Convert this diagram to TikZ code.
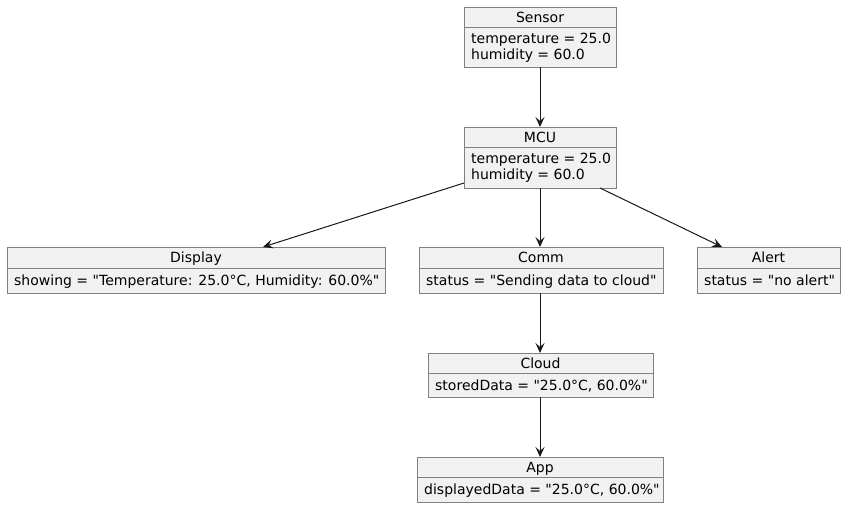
\documentclass[tikz,border=0pt]{standalone}
\usepackage{fontspec}
\setmainfont{DejaVu Sans}[Ligatures=TeXOff]
\usetikzlibrary{arrows.meta}
\definecolor{objfill}{HTML}{F1F1F1}
\definecolor{objline}{HTML}{808080}
\definecolor{edgecol}{HTML}{181818}
\tikzset{
  objbox/.style={draw=objline, fill=objfill, line width=0.9pt, inner sep=0pt, outer sep=0pt, rectangle},
  divline/.style={draw=objline, line width=0.9pt},
  objtitle/.style={anchor=base, inner sep=0pt, font=\fontsize{14}{16}\selectfont},
  objattr/.style={anchor=base west, inner sep=0pt, font=\fontsize{14}{16}\selectfont},
  link/.style={draw=edgecol, line width=1pt, -{Stealth[length=10pt,width=9pt,inset=4pt]}},
}
\newcommand\mkobj[7]{%
  \node[objbox, minimum width={#5-#2}, minimum height={#6-#3}] (#1) at ({(#2+#5)/2},{(#3+#6)/2}) {};
  \draw[divline] (#2,#4) -- (#5,#4);
  \node[objtitle] (#1-t) at ({(#2+#5)/2},{#3+15.5}) {#7};
}
\begin{document}
\begin{tikzpicture}[x=1pt,y=-1pt]
\useasboundingbox (0,0) rectangle (846,508);
\mkobj{sensor}{464}{7}{27}{616}{67}{Sensor}
\node[objattr] (sensor-a1) at (471,43.5) {temperature = 25.0};
\node[objattr] (sensor-a2) at (471,59.5) {humidity = 60.0};

\mkobj{mcu}{464}{127}{147}{616}{188}{MCU}
\node[objattr] (mcu-a1) at (471,163.5) {temperature = 25.0};
\node[objattr] (mcu-a2) at (471,179.5) {humidity = 60.0};

\mkobj{display}{7}{247}{268}{385}{293}{Display}
\node[objattr] (display-a1) at (14,285.5) {showing = "Temperature: 25.0°C, Humidity: 60.0\%"};

\mkobj{comm}{419}{247}{268}{663}{293}{Comm}
\node[objattr] (comm-a1) at (426,285.5) {status = "Sending data to cloud"};

\mkobj{alert}{697}{247}{268}{840}{293}{Alert}
\node[objattr] (alert-a1) at (704,285.5) {status = "no alert"};

\mkobj{cloud}{428}{353}{373}{653}{397}{Cloud}
\node[objattr] (cloud-a1) at (435,390.5) {storedData = "25.0°C, 60.0\%"};

\mkobj{app}{417}{457}{477}{663}{502}{App}
\node[objattr] (app-a1) at (424,494.5) {displayedData = "25.0°C, 60.0\%"};

\draw[link] (sensor.south) -- (sensor.south |- mcu.north);
\draw[link] ([yshift=5pt]mcu.south west) -- ([xshift=67pt]display.north);
\draw[link] (mcu.south) -- (mcu.south |- comm.north);
\draw[link] ([xshift=60pt]mcu.south) -- ([xshift=-46.5pt]alert.north);
\draw[link] (mcu.south |- comm.south) -- (mcu.south |- cloud.north);
\draw[link] (mcu.south |- cloud.south) -- (mcu.south |- app.north);
\end{tikzpicture}
\end{document}
